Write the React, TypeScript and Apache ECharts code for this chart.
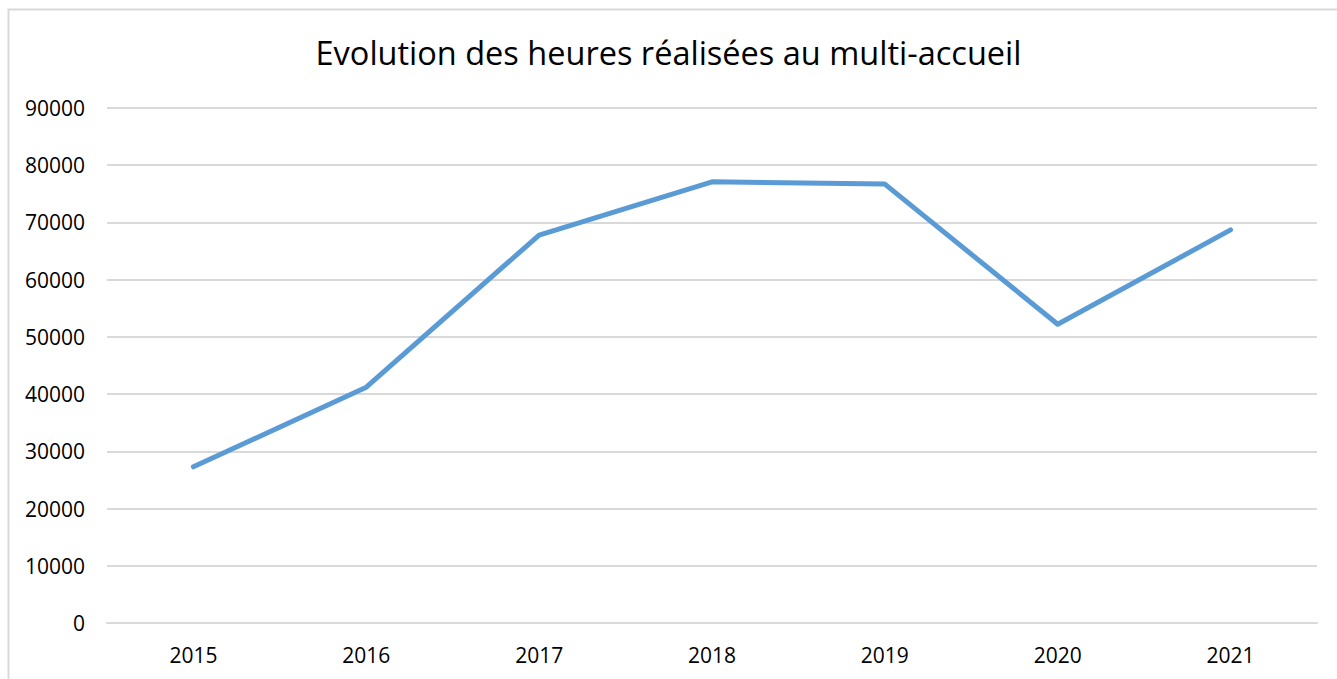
import React, { useEffect, useRef } from "react";
import * as echarts from "echarts";

const titleText = "Evolution des heures réalisées au multi-accueil";
const years = ["2015", "2016", "2017", "2018", "2019", "2020", "2021"];
const hours = [27300, 41200, 67800, 77100, 76700, 52200, 68700];
const yMin = 0;
const yMax = 90000;
const yStep = 10000;

const FONT = "'Open Sans', 'Liberation Sans', sans-serif";

export default function App() {
  const ref = useRef<HTMLDivElement>(null);

  useEffect(() => {
    if (!ref.current) return;
    const chart = echarts.init(ref.current, null, { renderer: "svg" });
    chart.setOption({
      animation: false,
      backgroundColor: "#ffffff",
      textStyle: { fontFamily: FONT },
      title: {
        text: titleText,
        left: "center",
        top: 31,
        textStyle: {
          fontFamily: FONT,
          fontSize: 32.5,
          fontWeight: "normal",
          color: "#000000",
        },
      },
      graphic: [
        {
          type: "rect",
          shape: { x: 8.5, y: 9.5, width: 1400, height: 720 },
          style: { fill: "none", stroke: "#d9d9d9", lineWidth: 2 },
          silent: true,
          z: -1,
        },
      ],
      grid: { left: 107, right: 20, top: 108, bottom: 56, containLabel: false },
      xAxis: {
        type: "category",
        data: years,
        boundaryGap: true,
        axisLine: { show: true, lineStyle: { color: "#d9d9d9", width: 2 } },
        axisTick: { show: false },
        axisLabel: {
          color: "#000000",
          fontSize: 21,
          fontFamily: FONT,
          margin: 21,
        },
      },
      yAxis: {
        type: "value",
        min: yMin,
        max: yMax,
        interval: yStep,
        axisLine: { show: false },
        axisTick: { show: false },
        splitLine: { show: true, lineStyle: { color: "#d9d9d9", width: 2 } },
        axisLabel: {
          color: "#000000",
          fontSize: 21,
          fontFamily: FONT,
          margin: 22,
          formatter: (v: number) => String(v),
        },
      },
      series: [
        {
          type: "line",
          data: hours,
          symbol: "none",
          lineStyle: { color: "#5b9bd5", width: 5, cap: "round", join: "round" },
          itemStyle: { color: "#5b9bd5" },
        },
      ],
    });
    return () => chart.dispose();
  }, []);

  return (
    <div
      ref={ref}
      style={{ position: "fixed", left: 0, top: 0, width: 1337, height: 679 }}
    />
  );
}
